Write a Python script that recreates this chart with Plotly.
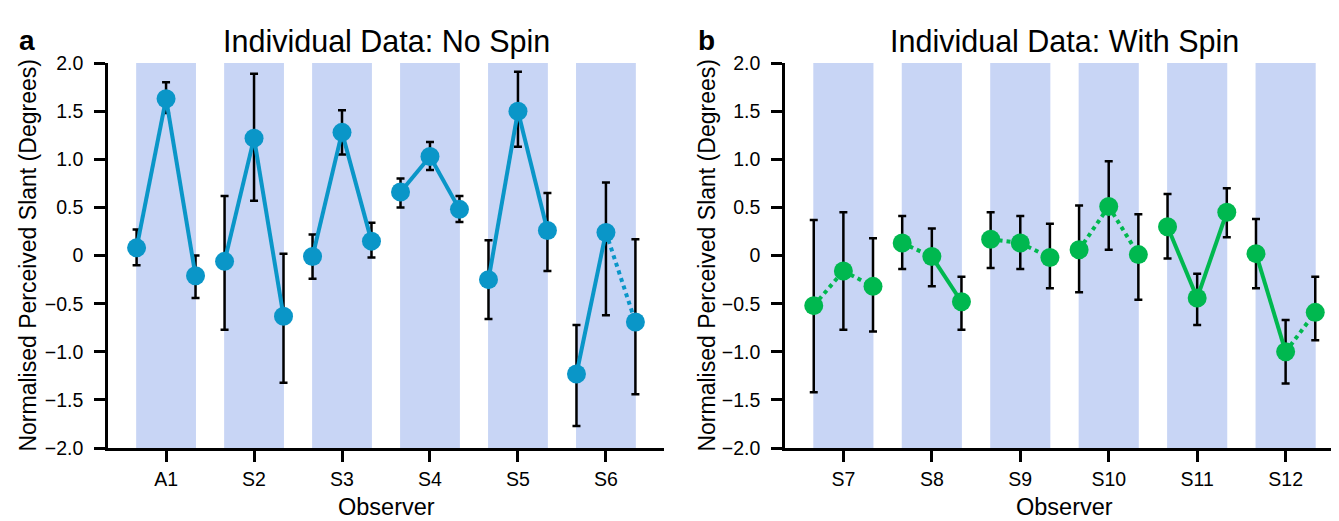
import plotly.graph_objects as go

# ---------------- data ----------------
no_spin_observers = ["A1", "S2", "S3", "S4", "S5", "S6"]
no_spin_mean = [[0.08, 1.63, -0.21], [-0.06, 1.22, -0.63], [-0.01, 1.28, 0.15],
                [0.66, 1.03, 0.48], [-0.25, 1.50, 0.26], [-1.23, 0.24, -0.69]]
no_spin_upper = [[0.27, 1.80, 0.00], [0.62, 1.89, 0.02], [0.22, 1.51, 0.34],
                 [0.80, 1.18, 0.62], [0.16, 1.91, 0.65], [-0.72, 0.76, 0.17]]
no_spin_lower = [[-0.10, 1.48, -0.44], [-0.77, 0.57, -1.32], [-0.24, 1.05, -0.02],
                 [0.50, 0.89, 0.35], [-0.66, 1.13, -0.16], [-1.77, -0.62, -1.44]]
no_spin_segments = [["solid", "solid"], ["solid", "solid"], ["solid", "solid"],
                    ["solid", "solid"], ["solid", "solid"], ["solid", "dot"]]

with_spin_observers = ["S7", "S8", "S9", "S10", "S11", "S12"]
with_spin_mean = [[-0.52, -0.16, -0.32], [0.13, -0.01, -0.48], [0.17, 0.13, -0.02],
                  [0.06, 0.51, 0.01], [0.30, -0.44, 0.45], [0.02, -1.00, -0.59]]
with_spin_upper = [[0.37, 0.45, 0.18], [0.41, 0.28, -0.22], [0.45, 0.41, 0.33],
                   [0.52, 0.98, 0.43], [0.64, -0.19, 0.70], [0.38, -0.67, -0.22]]
with_spin_lower = [[-1.42, -0.77, -0.79], [-0.14, -0.32, -0.77], [-0.13, -0.14, -0.34],
                   [-0.38, 0.06, -0.46], [-0.03, -0.72, 0.19], [-0.34, -1.33, -0.88]]
with_spin_segments = [["dot", "dot"], ["dot", "solid"], ["dot", "dot"],
                      ["dot", "dot"], ["solid", "solid"], ["solid", "dot"]]

y_tick_vals = [-2.0, -1.5, -1.0, -0.5, 0, 0.5, 1.0, 1.5, 2.0]
y_tick_text = ["\u22122.0", "\u22121.5", "\u22121.0", "\u22120.5", "0", "0.5", "1.0", "1.5", "2.0"]

titles = ["Individual Data: No Spin", "Individual Data: With Spin"]
panel_letters = ["a", "b"]
y_title = "Normalised Perceived Slant (Degrees)"
x_title = "Observer"

# ---------------- style ----------------
W, H = 1339, 521
FONT = "Helvetica, 'Liberation Sans', Arial, sans-serif"
BLUE = "#0a96c8"
GREEN = "#00b84f"
BAND = "#c8d5f5"
OFFSETS = [-0.335, 0.0, 0.335]
BAND_HALF = 0.34

# pixel geometry of the two plot areas
panels_px = [(100, 656), (777, 1336)]
plot_top, plot_bottom = 46, 448

fig = go.Figure()

panels = [
    (no_spin_observers, no_spin_mean, no_spin_upper, no_spin_lower, no_spin_segments, BLUE),
    (with_spin_observers, with_spin_mean, with_spin_upper, with_spin_lower, with_spin_segments, GREEN),
]

shapes = []
annotations = []
for p, (obs, mean, upper, lower, segs, color) in enumerate(panels):
    xa = "x" if p == 0 else "x2"
    ya = "y" if p == 0 else "y2"
    n = len(obs)
    # background bands
    for g in range(n):
        shapes.append(dict(type="rect", xref=xa, yref=ya, x0=g - BAND_HALF, x1=g + BAND_HALF,
                           y0=-2, y1=2, fillcolor=BAND, line=dict(width=0), layer="below"))
    xs, ys, ep, em = [], [], [], []
    for g in range(n):
        for k in range(3):
            xs.append(g + OFFSETS[k])
            ys.append(mean[g][k])
            ep.append(upper[g][k] - mean[g][k])
            em.append(mean[g][k] - lower[g][k])
    # error bars (drawn first, beneath markers)
    fig.add_trace(go.Scatter(x=xs, y=ys, mode="markers", xaxis=xa, yaxis=ya,
                             marker=dict(size=1, opacity=0),
                             error_y=dict(type="data", symmetric=False, array=ep, arrayminus=em,
                                          color="black", thickness=2.5, width=4),
                             showlegend=False, hoverinfo="skip"))
    # line segments
    for g in range(n):
        for s in range(2):
            fig.add_trace(go.Scatter(x=[g + OFFSETS[s], g + OFFSETS[s + 1]],
                                     y=[mean[g][s], mean[g][s + 1]],
                                     mode="lines", xaxis=xa, yaxis=ya,
                                     line=dict(color=color, width=4, dash=segs[g][s]),
                                     showlegend=False, hoverinfo="skip"))
    # markers
    fig.add_trace(go.Scatter(x=xs, y=ys, mode="markers", xaxis=xa, yaxis=ya,
                             marker=dict(size=19, color=color, line=dict(width=0)),
                             showlegend=False))

    x0px, x1px = panels_px[p]
    cx = (x0px + x1px) / 2 / W
    # title
    annotations.append(dict(text=titles[p], xref="paper", yref="paper", x=cx, y=(H - 23) / H,
                            xanchor="center", yanchor="middle", showarrow=False,
                            font=dict(family=FONT, size=30.5, color="black")))
    # panel letter
    lx = 19 if p == 0 else 698
    annotations.append(dict(text="<b>" + panel_letters[p] + "</b>", xref="paper", yref="paper",
                            x=lx / W, y=(H - 22) / H, xanchor="center", yanchor="middle",
                            showarrow=False, font=dict(family=FONT, size=28, color="black")))
    # y title
    ytx = 20 if p == 0 else 699
    annotations.append(dict(text=y_title, xref="paper", yref="paper", x=ytx / W,
                            y=(H - (plot_top + plot_bottom) / 2) / H, textangle=-90,
                            xanchor="center", yanchor="middle", showarrow=False,
                            font=dict(family=FONT, size=23, color="black")))
    # x title
    annotations.append(dict(text=x_title, xref="paper", yref="paper", x=cx, y=(H - 510) / H,
                            xanchor="center", yanchor="middle", showarrow=False,
                            font=dict(family=FONT, size=23.5, color="black")))

axis_common = dict(showgrid=False, zeroline=False, showline=True, linecolor="black", linewidth=2.5,
                   ticks="outside", ticklen=11, tickwidth=2.5, tickcolor="black",
                   tickfont=dict(family=FONT, size=19.5, color="black"))

yd = [(H - plot_bottom) / H, (H - plot_top) / H]
layout_axes = {}
for p, obs in enumerate([no_spin_observers, with_spin_observers]):
    sx = "" if p == 0 else "2"
    x0px, x1px = panels_px[p]
    n = len(obs)
    layout_axes["xaxis" + sx] = dict(axis_common, domain=[x0px / W, x1px / W],
                                     range=[-0.66, n - 1 + 0.66], tickvals=list(range(n)),
                                     ticktext=obs, anchor="y" + sx, ticklabelstandoff=1)
    layout_axes["yaxis" + sx] = dict(axis_common, domain=yd, range=[-2, 2],
                                     tickvals=y_tick_vals, ticktext=y_tick_text,
                                     anchor="x" + sx, ticklabelstandoff=7)

fig.update_layout(width=W, height=H, margin=dict(l=0, r=0, t=0, b=0),
                  plot_bgcolor="white", paper_bgcolor="white",
                  shapes=shapes, annotations=annotations,
                  font=dict(family=FONT, color="black"), **layout_axes)

fig.write_html("out.html")
